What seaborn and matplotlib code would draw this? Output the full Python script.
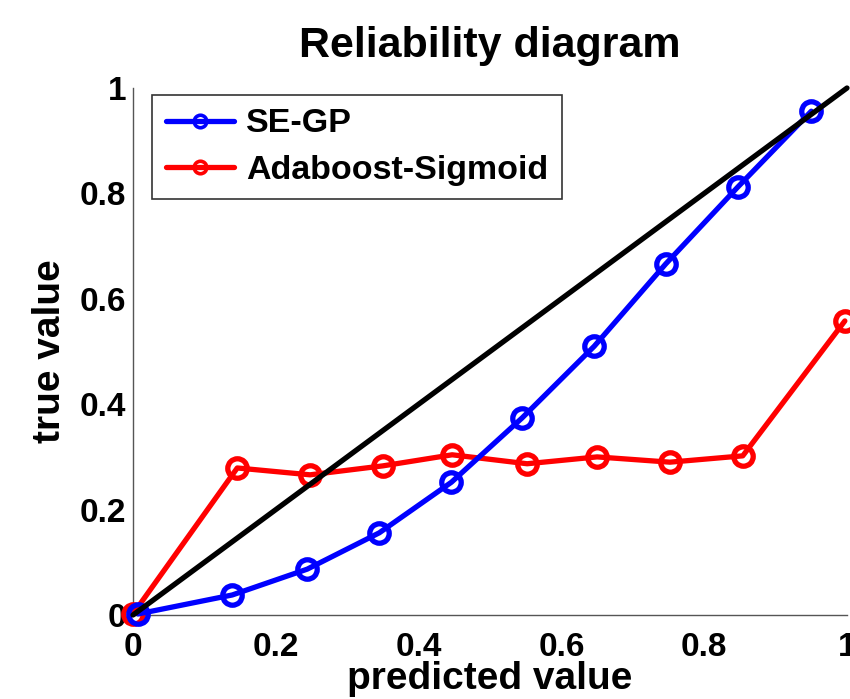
import matplotlib
matplotlib.use("Agg")
import matplotlib.pyplot as plt
import seaborn as sns
import pandas as pd

# data
se_gp_x = [0.007, 0.139, 0.244, 0.345, 0.446, 0.545, 0.646, 0.746, 0.847, 0.950]
se_gp_y = [0.002, 0.038, 0.087, 0.156, 0.252, 0.374, 0.510, 0.666, 0.812, 0.956]
ada_x = [0.0, 0.146, 0.248, 0.350, 0.447, 0.552, 0.650, 0.752, 0.854, 0.997]
ada_y = [0.002, 0.279, 0.266, 0.283, 0.304, 0.287, 0.300, 0.290, 0.302, 0.558]
diag = [0.0, 1.0]
xticks = [0, 0.2, 0.4, 0.6, 0.8, 1]
yticks = [0, 0.2, 0.4, 0.6, 0.8, 1]
xtick_labels = ["0", "0.2", "0.4", "0.6", "0.8", "1"]
ytick_labels = ["0", "0.2", "0.4", "0.6", "0.8", "1"]

sns.set_style("white")
plt.rcParams['font.family'] = ['Liberation Sans', 'DejaVu Sans']
plt.rcParams['font.weight'] = 'bold'
plt.rcParams['text.color'] = 'black'
plt.rcParams['axes.labelcolor'] = 'black'

fig = plt.figure(figsize=(8.5, 6.99), dpi=100)
ax = fig.add_axes([133/850, 1-615/699, (847-133)/850, (615-88)/699])

df1 = pd.DataFrame({"x": se_gp_x, "y": se_gp_y})
df2 = pd.DataFrame({"x": ada_x, "y": ada_y})
common = dict(marker='o', markersize=14, markerfacecolor='none', markeredgewidth=3.8,
              linewidth=3.8, sort=False, clip_on=False)
sns.lineplot(data=df1, x="x", y="y", color=(0, 0, 1), label="SE-GP", ax=ax,
             markeredgecolor=(0, 0, 1), zorder=4, **common)
sns.lineplot(data=df2, x="x", y="y", color=(1, 0, 0), label="Adaboost-Sigmoid", ax=ax,
             markeredgecolor=(1, 0, 0), zorder=3, **common)
ax.plot(diag, diag, color='black', linewidth=3.8, zorder=5, clip_on=False)

ax.set_xlim(0, 1)
ax.set_ylim(0, 1)
ax.set_xticks(xticks)
ax.set_xticklabels(xtick_labels)
ax.set_yticks(yticks)
ax.set_yticklabels(ytick_labels)
ax.tick_params(direction='in', length=6, width=1, color='#555555', labelcolor='black',
               labelsize=24)
ax.tick_params(axis='x', pad=12)
ax.tick_params(axis='y', pad=5)
for lab in ax.get_xticklabels() + ax.get_yticklabels():
    lab.set_fontweight('bold')
for s in ['top', 'right']:
    ax.spines[s].set_visible(False)
for s in ['left', 'bottom']:
    ax.spines[s].set_color('#555555')
    ax.spines[s].set_linewidth(1)

ax.set_xlabel("predicted value", fontsize=28, fontweight='bold', labelpad=-1)
ax.set_ylabel("true value", fontsize=28, fontweight='bold', labelpad=8)
ax.set_title("Reliability diagram", fontsize=31, fontweight='bold', pad=22)

leg = ax.legend(loc='upper left', bbox_to_anchor=(0.027, 0.987), fontsize=24.5,
                frameon=True, fancybox=False, edgecolor='black', handlelength=2.0,
                borderpad=0.4, labelspacing=0.45, handletextpad=0.35, borderaxespad=0.0)
leg.get_frame().set_linewidth(1.2)
for t in leg.get_texts():
    t.set_fontweight('bold')
for h in leg.get_lines():
    h.set_markersize(9)
    h.set_markeredgewidth(2.6)
    h.set_markerfacecolor('none')

fig.savefig("out.png", dpi=100)
